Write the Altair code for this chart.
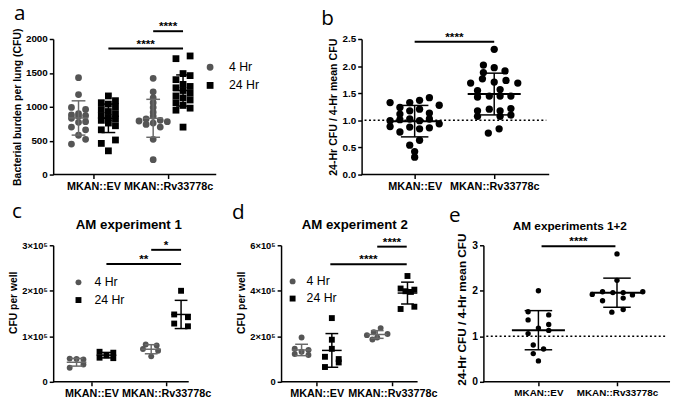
import altair as alt
import pandas as pd

FONT = "Liberation Sans"
LETTER_FONT = "Open Sans"
GRAY = "#555555"
BARGRAY = "#6a6a6a"
BLACK = "#000000"

SERIES = ["4 Hr", "24 Hr"]
GROUP_LABELS = ["MKAN::EV", "MKAN::Rv33778c"]

# ---------------- panel a : bacterial burden per lung (CFU) ----------------
A_EV_4H = [1430, 1180, 990, 960, 900, 880, 870, 860, 830, 780, 770, 700, 660, 580, 520, 450]
A_EV_4H_J = [0, 0, -1, 1, 0, -1, 1, 0, -1, 1, 0, -1, 1, 0, 1, -1]
A_EV_24H = [1160, 1090, 1060, 1040, 1000, 960, 930, 900, 870, 840, 820, 800, 760, 720, 660, 510, 460, 350]
A_EV_24H_J = [0, 1, -1, 0, 1, -1, 0, 1, -1, 0, 1, -1, 0, 1, -1, 1, -1, 0]
A_RV_4H = [1420, 1220, 1130, 1060, 990, 920, 860, 820, 800, 790, 780, 760, 740, 700, 520, 220]
A_RV_4H_J = [0, 0, 0, 0, 0, 0, 0, -1, 1, -2, 2, 0, -1, 1, 0, 0]
A_RV_24H = [1750, 1710, 1490, 1460, 1400, 1330, 1300, 1280, 1240, 1200, 1160, 1130, 1100, 1060, 1020, 980, 950, 700]
A_RV_24H_J = [1, -1, 0, 1, -1, 0, 1, -1, 0, 1, -1, 0, 1, -1, 0, 1, -1, 0]
A_MEAN = [835, 830, 830, 1240]
A_SD = [253, 210, 280, 230]
A_SIG = [(1.2, 2.2, 1860, "****"), (1.8, 2.2, 2115, "****")]

# ---------------- panel b : 24-Hr / 4-Hr ratio (lung) ----------------
B_EV = [1.327, 1.237, 1.327, 1.369, 1.417, 1.278, 1.116, 1.175, 1.206, 1.134, 0.994, 1.013, 1.025,
        0.994, 1.025, 0.935, 0.886, 0.785, 0.875, 0.844, 0.862, 0.633, 0.542, 0.423, 0.32]
B_EV_J = [-2.5, -1.5, -0.5, 0.5, 1.5, 2.5, -1.5, -0.5, 0.5, 1.5, -2.5, -1.5, -0.5,
          0.5, 1.5, 2.5, -2.5, -1.5, -0.5, 0.5, 1.5, 0.5, -0.5, 0, 0]
B_RV = [2.309, 2.02, 1.971, 1.911, 1.881, 1.688, 1.766, 1.706, 1.736, 1.688, 1.549, 1.568, 1.429,
        1.447, 1.447, 1.447, 1.175, 1.206, 1.175, 1.218, 1.074, 1.074, 1.097, 0.766, 0.844]
B_RV_J = [0, -1.1, 0, 1.1, -1.1, -2.4, -1.2, 0, 1.2, 2.4, -1.7, 0.6, -1.7,
          -0.5, 0.6, 1.7, -1.7, -0.5, 0.6, 1.7, -1.7, 0.6, 1.7, -0.6, 0.5]
B_MEAN = [0.985, 1.485]
B_SD = [0.29, 0.385]
B_SIG = [(1.0, 2.0, 2.45, "****")]

# ---------------- panel c : AM experiment 1 ----------------
C_EV_4H = [51000, 50000, 49000, 38000, 31000]
C_EV_4H_J = [-1, 0, 1, 1, -1]
C_EV_24H = [66000, 64000, 58000, 53000, 52000]
C_EV_24H_J = [-1, 1, 0, -1, 1]
C_RV_4H = [82000, 80000, 72000, 68000, 56000]
C_RV_4H_J = [-0.8, 0.8, -1.2, 1, 0]
C_RV_24H = [200000, 148000, 142000, 128000, 122000]
C_RV_24H_J = [0, -1, 1, -1, 1]
C_MEAN = [43000, 58600, 71600, 148000]
C_SD = [8500, 6000, 10000, 31000]
C_SIG = [(1.2, 2.2, 259000, "**"), (1.8, 2.2, 290000, "*")]

# ---------------- panel d : AM experiment 2 ----------------
D_EV_4H = [195000, 145000, 140000, 132000, 122000, 118000]
D_EV_4H_J = [0, -1, 1, 0, -1, 1]
D_EV_24H = [280000, 185000, 145000, 110000, 100000, 85000, 65000]
D_EV_24H_J = [0, 0, 0, -1, 1, 1, -1]
D_RV_4H = [236000, 218000, 210000, 205000, 195000, 186000]
D_RV_4H_J = [0.5, -0.5, 1.5, -1.5, 0, -0.7]
D_RV_24H = [465000, 410000, 405000, 398000, 395000, 330000, 320000]
D_RV_24H_J = [0, -1, 1, -0.3, 0.5, 1, -1]
D_MEAN = [140000, 138000, 208000, 390000]
D_SD = [25000, 74000, 17000, 48000]
D_SIG = [(1.18, 2.19, 517000, "****"), (1.8, 2.19, 594000, "****")]

# ---------------- panel e : AM experiments 1+2 ----------------
E_EV = [2.0, 1.54, 1.47, 1.36, 1.26, 1.18, 1.13, 1.06, 0.81, 0.72, 0.62, 0.46]
E_EV_J = [0, -1, 1, -1, 1, 0, 1, -1, -0.5, 0.5, -0.5, 0]
E_RV = [2.81, 2.23, 1.92, 1.98, 1.96, 1.96, 1.91, 1.98, 1.78, 1.84, 1.53, 1.59]
E_RV_J = [0, 0, -2.4, -1.4, -0.4, 0.6, 1.5, 2.5, -1.4, 0.6, -0.5, 0.6]
E_MEAN = [1.134, 1.958]
E_SD = [0.43, 0.32]
E_SIG = [(1.04, 1.98, 2.98, "****")]


def build(P):
    ppu, w, h, evpx = P["ppu"], P["width"], P["height"], P["ev_px"]
    xmin = 1 - evpx / ppu
    xmax = 1 + (w - evpx) / ppu
    xend = 1 + (P["axis_end_px"] - evpx) / ppu
    step = P["step_px"] / ppu
    xs = alt.Scale(domain=[xmin, xmax], nice=False, zero=False)
    ys = alt.Scale(domain=[0, P["ymax"]], nice=False, zero=False)
    xaxis = alt.Axis(values=[1, 2],
                     labelExpr="datum.value == 1 ? '%s' : '%s'" % tuple(GROUP_LABELS),
                     domain=False, ticks=True, tickSize=4, tickWidth=1.5, tickColor=BLACK,
                     labelFont=FONT, labelFontSize=P["xlab"], labelFontWeight="bold",
                     labelColor=BLACK, grid=False, title=None, labelPadding=2,
                     labelAngle=0, labelOverlap=False)
    ykw = dict(values=P["yticks"], title=P["ytitle"], titleFont=FONT,
               titleFontSize=P["ytitle_size"], titleFontWeight="bold", titleColor=BLACK,
               titlePadding=P["ytitle_pad"], titleY=P["ytitle_y"],
               labelFont=FONT, labelFontSize=P["ylab"], labelFontWeight="bold",
               labelColor=BLACK, domainColor=BLACK, domainWidth=1.5, tickColor=BLACK,
               tickWidth=1.5, tickSize=4, labelPadding=2, grid=False, labelOverlap=False)
    if "ylabexpr" in P:
        ykw["labelExpr"] = P["ylabexpr"]
    else:
        ykw["format"] = P["yformat"]
    yaxis = alt.Axis(**ykw)

    def X(f):
        return alt.X(f, type="quantitative", scale=xs, axis=xaxis)

    def Y(f):
        return alt.Y(f, type="quantitative", scale=ys, axis=yaxis)

    rows = []
    for gi, ser, vals, jits in P["points"]:
        for v, j in zip(vals, jits):
            rows.append({"x": gi + P["offset"][ser] + j * step, "v": v, "series": ser})
    pts = pd.DataFrame(rows)

    mh = P["mean_half_px"] / ppu
    ch = P["cap_half_px"] / ppu
    srows = []
    for gi, ser, m, sd in P["summary"]:
        xc = gi + P["offset"][ser]
        srows.append({"xc": xc, "mean": m, "lo": m - sd, "hi": m + sd,
                      "ml": xc - mh, "mr": xc + mh, "cl": xc - ch, "cr": xc + ch,
                      "col": BARGRAY if ser == "4 Hr" else BLACK})
    summ = pd.DataFrame(srows)

    layers = []
    if P["legend"]:
        lx, ly, rp = P["legend"]
        leg = alt.Legend(orient="none", legendX=lx, legendY=ly, title=None,
                         labelFont=FONT, labelFontSize=12.5, labelColor=BLACK,
                         symbolSize=P["size"], rowPadding=rp, labelOffset=P["leg_off"],
                         padding=0, symbolStrokeWidth=0)
        layers.append(alt.Chart(pts).mark_point(filled=True, opacity=1, size=P["size"]).encode(
            x=X("x"), y=Y("v"),
            color=alt.Color("series:N", scale=alt.Scale(domain=SERIES, range=[GRAY, BLACK]), legend=leg),
            shape=alt.Shape("series:N", scale=alt.Scale(domain=SERIES, range=["circle", "square"]), legend=leg),
        ))
    else:
        layers.append(alt.Chart(pts).mark_point(filled=True, opacity=1, size=P["size"],
                                                shape="circle", color=BLACK).encode(
            x=X("x"), y=Y("v")))

    bw = P["bar_w"]
    colenc = alt.Color("col:N", scale=None)
    layers.append(alt.Chart(summ).mark_rule(strokeWidth=bw).encode(x=X("xc"), y=Y("lo"), y2="hi", color=colenc))
    layers.append(alt.Chart(summ).mark_rule(strokeWidth=bw).encode(x=X("cl"), x2="cr", y=Y("hi"), color=colenc))
    layers.append(alt.Chart(summ).mark_rule(strokeWidth=bw).encode(x=X("cl"), x2="cr", y=Y("lo"), color=colenc))
    layers.append(alt.Chart(summ).mark_rule(strokeWidth=P["mean_w"]).encode(x=X("ml"), x2="mr", y=Y("mean"), color=colenc))

    base = pd.DataFrame({"x0": [xmin], "x1": [xend], "y": [0.0]})
    layers.append(alt.Chart(base).mark_rule(strokeWidth=1.5, color=BLACK).encode(x=X("x0"), x2="x1", y=Y("y")))

    if P.get("refline"):
        ref = pd.DataFrame({"x0": [xmin + 3 / ppu], "x1": [xend - 3 / ppu], "y": [1.0]})
        layers.append(alt.Chart(ref).mark_rule(strokeWidth=1.5, color=BLACK, strokeDash=[2, 2.5]).encode(
            x=X("x0"), x2="x1", y=Y("y")))

    sig = pd.DataFrame([{"x0": a, "x1": b, "xm": (a + b) / 2, "y": y, "t": t} for a, b, y, t in P["sig"]])
    layers.append(alt.Chart(sig).mark_rule(strokeWidth=2, color=BLACK).encode(x=X("x0"), x2="x1", y=Y("y")))
    layers.append(alt.Chart(sig).mark_text(font=FONT, fontSize=12, fontWeight="bold", color=BLACK,
                                           baseline="alphabetic", dy=-1).encode(
        x=X("xm"), y=Y("y"), text="t:N"))

    lt, lxp, lyp = P["letter"]
    layers.append(alt.Chart(pd.DataFrame({"t": [lt]})).mark_text(
        font=LETTER_FONT, fontSize=21, color=BLACK, align="left", baseline="alphabetic").encode(
        text="t:N", x=alt.value(lxp), y=alt.value(lyp)))
    if P.get("title"):
        tt, txp, typ, tfs = P["title"]
        layers.append(alt.Chart(pd.DataFrame({"t": [tt]})).mark_text(
            font=FONT, fontSize=tfs, fontWeight="bold", color=BLACK, align="center",
            baseline="alphabetic").encode(text="t:N", x=alt.value(txp), y=alt.value(typ)))

    return alt.layer(*layers).properties(width=w, height=h)


OFF2 = {"4 Hr": -0.2, "24 Hr": 0.2}
CFU_EXPR = "datum.value == 0 ? '0' : format(datum.value / 100000, 'd') + '×10⁵'"

PA = dict(ppu=76, width=166, height=138, ev_px=41, axis_end_px=166, step_px=7.2,
          ymax=2000, yticks=[0, 500, 1000, 1500, 2000], yformat="d", xlab=11, ylab=10,
          ytitle="Bacterial burden per lung (CFU)", ytitle_size=10.6, ytitle_pad=3, ytitle_y=69,
          offset=OFF2, size=48, legend=(153.5, 22.5, 5.5), leg_off=13,
          points=[(1, "4 Hr", A_EV_4H, A_EV_4H_J), (1, "24 Hr", A_EV_24H, A_EV_24H_J),
                  (2, "4 Hr", A_RV_4H, A_RV_4H_J), (2, "24 Hr", A_RV_24H, A_RV_24H_J)],
          summary=[(1, "4 Hr", A_MEAN[0], A_SD[0]), (1, "24 Hr", A_MEAN[1], A_SD[1]),
                   (2, "4 Hr", A_MEAN[2], A_SD[2]), (2, "24 Hr", A_MEAN[3], A_SD[3])],
          mean_half_px=10, cap_half_px=7, bar_w=1.5, mean_w=1.5,
          sig=A_SIG, letter=("a", -40, -19))

PB = dict(ppu=81, width=191, height=138, ev_px=54, axis_end_px=191, step_px=10,
          ymax=2.5, yticks=[0, 0.5, 1.0, 1.5, 2.0, 2.5], yformat=".1f", xlab=11, ylab=10,
          ytitle="24-Hr CFU / 4-Hr mean CFU", ytitle_size=10.8, ytitle_pad=4, ytitle_y=69,
          offset={"all": 0.0}, size=55, legend=None, leg_off=0,
          points=[(1, "all", B_EV, B_EV_J), (2, "all", B_RV, B_RV_J)],
          summary=[(1, "all", B_MEAN[0], B_SD[0]), (2, "all", B_MEAN[1], B_SD[1])],
          mean_half_px=27, cap_half_px=14, bar_w=1.5, mean_w=2,
          sig=B_SIG, letter=("b", -41, -14), refline=True)

PC = dict(ppu=76, width=192, height=139, ev_px=39, axis_end_px=138, step_px=7,
          ymax=300000, yticks=[0, 100000, 200000, 300000], ylabexpr=CFU_EXPR, xlab=11, ylab=9.5,
          ytitle="CFU per well", ytitle_size=10.5, ytitle_pad=3, ytitle_y=58,
          offset=OFF2, size=36, legend=(19.5, 31.5, 5), leg_off=10,
          points=[(1, "4 Hr", C_EV_4H, C_EV_4H_J), (1, "24 Hr", C_EV_24H, C_EV_24H_J),
                  (2, "4 Hr", C_RV_4H, C_RV_4H_J), (2, "24 Hr", C_RV_24H, C_RV_24H_J)],
          summary=[(1, "4 Hr", C_MEAN[0], C_SD[0]), (1, "24 Hr", C_MEAN[1], C_SD[1]),
                   (2, "4 Hr", C_MEAN[2], C_SD[2]), (2, "24 Hr", C_MEAN[3], C_SD[3])],
          mean_half_px=10, cap_half_px=6.5, bar_w=1.5, mean_w=1.5,
          sig=C_SIG, letter=("c", -42, -28), title=("AM experiment 1", 77, -17, 13.5))

PD = dict(ppu=77, width=166, height=139, ev_px=36.3, axis_end_px=139, step_px=7,
          ymax=600000, yticks=[0, 200000, 400000, 600000], ylabexpr=CFU_EXPR, xlab=11, ylab=9.5,
          ytitle="CFU per well", ytitle_size=10.5, ytitle_pad=3, ytitle_y=58,
          offset=OFF2, size=36, legend=(5.5, 30.5, 4.5), leg_off=8,
          points=[(1, "4 Hr", D_EV_4H, D_EV_4H_J), (1, "24 Hr", D_EV_24H, D_EV_24H_J),
                  (2, "4 Hr", D_RV_4H, D_RV_4H_J), (2, "24 Hr", D_RV_24H, D_RV_24H_J)],
          summary=[(1, "4 Hr", D_MEAN[0], D_SD[0]), (1, "24 Hr", D_MEAN[1], D_SD[1]),
                   (2, "4 Hr", D_MEAN[2], D_SD[2]), (2, "24 Hr", D_MEAN[3], D_SD[3])],
          mean_half_px=10, cap_half_px=6.5, bar_w=1.5, mean_w=1.5,
          sig=D_SIG, letter=("d", -50, -27), title=("AM experiment 2", 75, -17, 13.5))

PE = dict(ppu=80, width=190, height=139, ev_px=56, axis_end_px=190, step_px=10.5,
          ymax=3, yticks=[0, 1, 2, 3], yformat="d", xlab=10, ylab=10.5,
          ytitle="24-Hr CFU / 4-Hr mean CFU", ytitle_size=12, ytitle_pad=3, ytitle_y=65,
          offset={"all": 0.0}, size=30, legend=None, leg_off=0,
          points=[(1, "all", E_EV, E_EV_J), (2, "all", E_RV, E_RV_J)],
          summary=[(1, "all", E_MEAN[0], E_SD[0]), (2, "all", E_MEAN[1], E_SD[1])],
          mean_half_px=27, cap_half_px=14, bar_w=1.5, mean_w=2,
          sig=E_SIG, letter=("e", -35, -24), title=("AM experiments 1+2", 88, -16, 12), refline=True)

row1 = alt.hconcat(build(PA), build(PB), spacing=148, bounds="flush").resolve_scale(
    color="independent", shape="independent")
row2 = alt.hconcat(build(PC), build(PD), build(PE), spacing=40, bounds="flush").resolve_scale(
    color="independent", shape="independent")

chart = alt.vconcat(row1, row2, spacing=8).resolve_scale(
    color="independent", shape="independent").properties(
    padding={"left": 0, "top": -9, "right": 0, "bottom": 0}
).configure_view(stroke="transparent")

chart.save("out.html", embed_options={"renderer": "svg", "actions": False})
